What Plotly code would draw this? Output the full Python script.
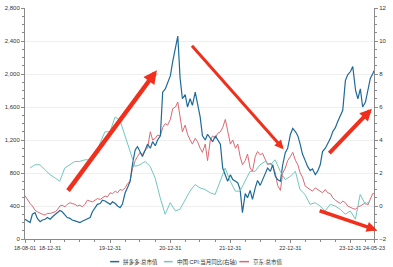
import pandas as pd
import plotly.graph_objects as go

# ---------------- data ----------------
SERIES_NAMES = ["拼多多:总市值", "中国:CPI:当月同比(右轴)", "京东:总市值"]

# semi-monthly sample dates (1st & 15th), plus last trading day
mkt_dates = list(pd.date_range("2018-08-01", "2024-05-15", freq="SMS")) + [pd.Timestamp("2024-05-23")]

pdd_cap = [
    240, 220, 200, 300, 320, 250, 210, 230, 240, 260,      # 2018 Aug-Dec
    240, 270, 300, 330, 345, 330, 290, 260, 250, 230, 220, 210,
    200, 215, 230, 250, 260, 330, 380, 420, 430, 470, 460, 440,  # 2019
    420, 450, 430, 400, 380, 420, 560, 620, 700, 900, 1080, 1120,
    1050, 1000, 1080, 1150, 1100, 1180, 1130, 1200, 1250, 1780, 1820, 1900,  # 2020
    1980, 2150, 2300, 2460, 1950, 1700, 1750, 1600, 1700, 1620, 1780, 1650,
    1480, 1250, 1200, 1270, 1220, 1180, 1250, 1200, 1150, 860, 760, 700,  # 2021
    780, 720, 700, 680, 600, 320, 550, 500, 590, 480, 620, 710,
    650, 720, 800, 860, 820, 900, 760, 720, 700, 900, 1050, 1100,  # 2022
    1270, 1340, 1300, 1250, 1150, 1030, 950, 880, 830, 850, 780, 820,
    900, 1060, 1100, 1150, 1220, 1300, 1350, 1420, 1500, 1560, 1920, 1990,  # 2023
    2030, 2090, 1800, 1700, 1820, 1600, 1660, 1800, 1950, 2000,  # 2024 Jan-May
    2040,
]

jd_cap = [
    525, 480, 430, 400, 350, 330, 310, 300, 290, 310,      # 2018
    310, 320, 330, 360, 400, 410, 390, 420, 440, 430, 420, 400,
    410, 390, 420, 470, 460, 450, 470, 490, 480, 500, 520, 510,  # 2019
    560, 550, 580, 560, 600, 590, 620, 670, 700, 850, 950, 1000,
    1050, 1020, 1080, 1100, 1300, 1200, 1220, 1260, 1250, 1350, 1400, 1380,  # 2020
    1450, 1580, 1600, 1660, 1450, 1300, 1380, 1270, 1200, 1150, 1220, 1180,
    1100, 1050, 1150, 950, 1200, 1250, 1220, 1280, 1300, 1350, 1450, 1300,  # 2021
    1150, 1200, 1100, 1150, 1000, 900, 950, 1030, 860, 820, 1000, 1060,
    1020, 1040, 950, 900, 920, 880, 800, 650, 590, 800, 860, 950,  # 2022
    1000, 1050, 950, 900, 800, 750, 640, 620, 600, 580, 620, 600,
    580, 560, 600, 560, 550, 500, 470, 450, 430, 460, 440, 400,  # 2023
    380, 370, 360, 390, 400, 420, 440, 410, 480, 550,  # 2024
    550,
]

cpi_dates = list(pd.date_range("2018-08-31", periods=69, freq="ME"))
cpi_yoy = [
    2.3, 2.5, 2.5, 2.2, 1.9,
    1.7, 1.5, 2.3, 2.5, 2.7, 2.7, 2.8, 2.8, 3.0, 3.8, 4.5, 4.5,
    5.4, 5.2, 4.3, 3.3, 2.4, 2.5, 2.7, 2.4, 1.7, 0.5, -0.5, 0.2,
    -0.3, -0.2, 0.4, 0.9, 1.3, 1.1, 1.0, 0.8, 0.7, 1.5, 2.3, 1.5,
    0.9, 0.9, 1.5, 2.1, 2.1, 2.5, 2.7, 2.5, 2.8, 2.1, 1.6, 1.8,
    2.1, 1.0, 0.7, 0.1, 0.2, 0.0, -0.3, 0.1, 0.0, -0.2, -0.5, -0.3,
    -0.8, 0.7, 0.1, 0.3,
]

x_tick_vals = ["2018-08-01", "2018-12-31", "2019-12-31", "2020-12-31",
               "2021-12-31", "2022-12-31", "2023-12-31", "2024-05-23"]
x_tick_text = ["18-08-01", "18-12-31", "19-12-31", "20-12-31",
               "21-12-31", "22-12-31", "23-12-31", "24-05-23"]
x_minor_vals = [d.strftime("%Y-%m-%d") for d in pd.date_range("2018-09-30", "2024-04-30", freq="QE")]

# ---------------- styling ----------------
C_PDD = "#1f6a97"
C_CPI = "#74c6bf"
C_JD = "#db6872"
C_ARROW = "#f0301c"
FONT = "Liberation Sans, Arial, Noto Sans CJK SC, sans-serif"
AXC = "#8a8a8a"

fig = go.Figure()
fig.add_trace(go.Scatter(x=mkt_dates, y=jd_cap, mode="lines", name=SERIES_NAMES[2],
                         line=dict(color=C_JD, width=1), yaxis="y"))
fig.add_trace(go.Scatter(x=mkt_dates, y=pdd_cap, mode="lines", name=SERIES_NAMES[0],
                         line=dict(color=C_PDD, width=1.2), yaxis="y"))
fig.add_trace(go.Scatter(x=cpi_dates, y=cpi_yoy, mode="lines", name=SERIES_NAMES[1],
                         line=dict(color=C_CPI, width=1), yaxis="y2"))

fig.update_layout(
    width=393, height=267,
    margin=dict(l=22, r=19, t=5, b=28),
    paper_bgcolor="white", plot_bgcolor="white",
    showlegend=False,
    font=dict(family=FONT, size=6, color="#333"),
    xaxis=dict(type="date", range=["2018-08-01", "2024-05-23"],
               tickvals=x_tick_vals, ticktext=x_tick_text, tickangle=0,
               showline=True, linecolor=AXC, linewidth=1,
               ticks="outside", ticklen=3, tickcolor=AXC,
               minor=dict(tickvals=x_minor_vals, ticks="outside", ticklen=2, tickcolor=AXC),
               showgrid=False, zeroline=False, tickfont=dict(size=5.5)),
    yaxis=dict(range=[0, 2800], dtick=400, tickformat=",",
               showline=True, linecolor=AXC, linewidth=1,
               ticks="outside", ticklen=3, tickcolor=AXC,
               minor=dict(dtick=100, ticks="outside", ticklen=2, tickcolor=AXC, showgrid=False),
               showgrid=True, gridcolor="#efefef", gridwidth=1, zeroline=False,
               tickfont=dict(size=6)),
    yaxis2=dict(range=[-2, 12], dtick=2, overlaying="y", side="right",
                showline=True, linecolor=AXC, linewidth=1,
                ticks="outside", ticklen=3, tickcolor=AXC,
                minor=dict(dtick=0.5, ticks="outside", ticklen=2, tickcolor=AXC),
                showgrid=False, zeroline=False, tickfont=dict(size=6)),
)

# ---------------- red arrows (paper coords + pixel offsets) ----------------
arrows = [
    dict(x=0.378, y=0.731, ax=-90, ay=122, w=4.5),
    dict(x=0.741, y=0.389, ax=-93, ay=-105, w=3.0),
    dict(x=0.994, y=0.564, ax=-44, ay=46, w=4.0),
    dict(x=1.009, y=0.038, ax=-59, ay=-20, w=3.5),
]
for a in arrows:
    fig.add_annotation(x=a["x"], y=a["y"], xref="paper", yref="paper",
                       ax=a["ax"], ay=a["ay"], text="", showarrow=True,
                       arrowhead=2, arrowsize=0.6, arrowwidth=a["w"],
                       arrowcolor=C_ARROW, standoff=0)

# ---------------- custom compact legend ----------------
leg_y = -0.098
leg_items = [(0.244, 0.270, 0.2757, C_PDD, SERIES_NAMES[0]),
             (0.398, 0.423, 0.429, C_CPI, SERIES_NAMES[1]),
             (0.614, 0.642, 0.648, C_JD, SERIES_NAMES[2])]
for x0, x1, xt, col, name in leg_items:
    fig.add_shape(type="line", xref="paper", yref="paper", x0=x0, x1=x1, y0=leg_y, y1=leg_y,
                  line=dict(color=col, width=1.5))
    fig.add_annotation(x=xt, y=leg_y, xref="paper", yref="paper", text=name, showarrow=False,
                       xanchor="left", yanchor="middle", font=dict(size=5.5, color="#333"))

fig.write_html("out.html")
